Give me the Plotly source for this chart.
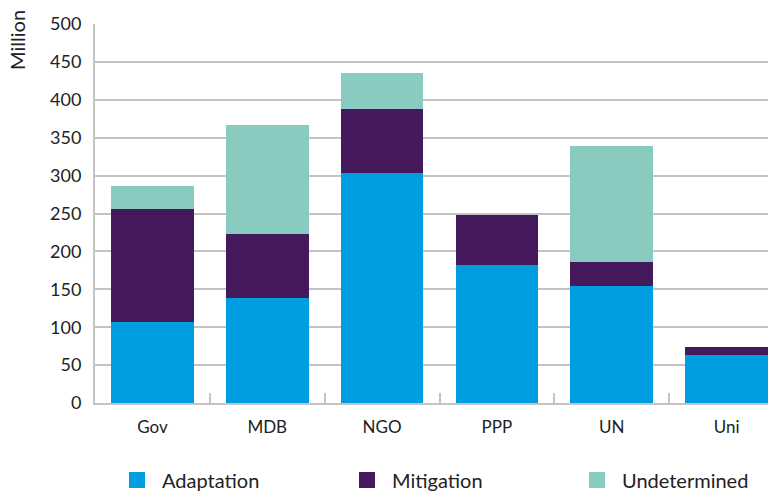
import plotly.graph_objects as go

categories = ["Gov", "MDB", "NGO", "PPP", "UN", "Uni"]
adaptation = [107, 138, 303, 182, 154, 63]
mitigation = [149, 85, 85, 66, 32, 11]
undetermined = [30, 144, 47, 0, 153, 0]
y_ticks = [0, 50, 100, 150, 200, 250, 300, 350, 400, 450, 500]

FONT = "Lato"
series = [("Adaptation", adaptation, "#009EE0"),
          ("Mitigation", mitigation, "#441A5D"),
          ("Undetermined", undetermined, "#8ACBC1")]
legend_ids = ["legend", "legend2", "legend3"]
legend_x = [0.0247, 0.3585, 0.6923]

fig = go.Figure()
for name, vals, col in series:
    fig.add_trace(go.Bar(x=categories, y=vals, name=name, marker_color=col,
                         marker_line_width=0, width=0.72, showlegend=False))
for (name, vals, col), lid in zip(series, legend_ids):
    fig.add_trace(go.Scatter(x=[None], y=[None], mode="markers", name=name,
                             legend=lid,
                             marker=dict(symbol="square", size=16, color=col)))

legend_common = dict(orientation="h", xanchor="left", y=-0.203, yanchor="middle",
                     itemwidth=40, bgcolor="rgba(0,0,0,0)",
                     font=dict(size=20, family=FONT, color="#222222"))

fig.update_layout(
    width=776, height=492, barmode="stack",
    margin=dict(l=87, r=0, t=16, b=97, autoexpand=False),
    plot_bgcolor="white", paper_bgcolor="white",
    font=dict(family=FONT, size=17, color="#222222"),
    showlegend=True,
    legend=dict(x=legend_x[0], **legend_common),
    legend2=dict(x=legend_x[1], **legend_common),
    legend3=dict(x=legend_x[2], **legend_common),
    xaxis=dict(range=[-0.5, 5.5], showline=True, linecolor="#c4c4c4", linewidth=2,
               ticks="inside", tickson="boundaries", ticklen=10, tickcolor="#c4c4c4",
               tickwidth=2, ticklabelstandoff=8, showgrid=False, automargin=False),
    yaxis=dict(range=[0, 500], tickvals=y_ticks, showline=True, linecolor="#c4c4c4",
               linewidth=2, gridcolor="#c4c4c4", gridwidth=1.5, zeroline=False,
               ticks="", ticklabelstandoff=8, automargin=False,
               tickfont=dict(size=18)),
    annotations=[dict(text="Million", textangle=-90, xref="paper", yref="paper",
                      x=-0.1132, y=0.958, xanchor="center", yanchor="middle",
                      showarrow=False, font=dict(size=20, family=FONT))],
)
fig.write_html("out.html")
